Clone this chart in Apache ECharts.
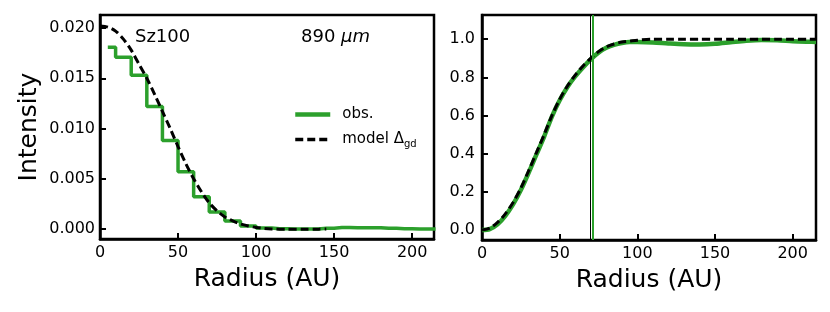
<!DOCTYPE html>
<html>
<head>
<meta charset="utf-8">
<script src="https://cdn.jsdelivr.net/npm/echarts@6/dist/echarts.min.js"></script>
<style>html,body{margin:0;padding:0;background:#fff}#c{width:830px;height:312px}</style>
</head>
<body>
<div id="c"></div>
<script>
// ---- Left panel: intensity profile ----
var obsRadius = [5,15,25,35,45,55,65,75,85,95,105,115,125,135,145,155,165,175,185,195,205,215];
var obsIntensity = [0.0181,0.0171,0.0153,0.0122,0.0088,0.0057,0.0032,0.0017,0.0008,0.0003,0.0001,0.00001,0.0,0.0,0.00008,0.00014,0.00013,0.00011,0.00006,0.00002,0.0,0.0];
var modelRadius = [0,5,10,15,20,25,30,35,40,45,50,55,60,65,70,75,80,85,90,95,100,105,110,120,130,140,145];
var modelIntensity = [0.0202,0.0201,0.0197,0.0189,0.0178,0.0164,0.0150,0.0134,0.0117,0.0100,0.0082,0.0065,0.0050,0.0037,0.0026,0.0018,0.0012,0.0008,0.0005,0.0003,0.00015,0.00005,0.0,-0.00003,-0.00003,-0.00002,0.0];
// ---- Right panel: cumulative (normalised) ----
var cumRadius = [0,5,10,15,20,25,30,35,40,45,50,55,60,65,70,75,80,85,90,95,100,110,120,130,140,150,160,170,180,190,200,210,215];
var cumObs = [0.0,0.005,0.03,0.075,0.135,0.21,0.30,0.395,0.49,0.595,0.68,0.75,0.805,0.852,0.895,0.93,0.955,0.97,0.98,0.985,0.985,0.983,0.978,0.974,0.973,0.976,0.984,0.992,0.996,0.995,0.99,0.987,0.986];
var cumModel = [0.0,0.01,0.04,0.085,0.145,0.22,0.31,0.405,0.50,0.60,0.685,0.755,0.812,0.86,0.90,0.935,0.96,0.975,0.985,0.99,0.995,1.0,1.0,1.0,1.0,1.0,1.0,1.0,1.0,1.0,1.0,1.0,1.0];
var radiusLine1 = 70;
var radiusLine2 = 71;
var xTicks = [0,50,100,150,200];
var yTicksLeft = [0,0.005,0.01,0.015,0.02];
var yTicksRight = [0,0.2,0.4,0.6,0.8,1.0];

function zip(a,b){return a.map(function(v,i){return [v,b[i]];});}
var FF = 'DejaVu Sans';
var GREEN = '#2ca02c';
var DASH = [8,4];
function axLine(){return {show:true, onZero:false, lineStyle:{color:'#000', width:2.5}};}
function axTick(vals){return {show:true, inside:true, length:6, lineStyle:{color:'#000', width:2}, customValues:vals};}

function xAxisOpt(idx, max){
  return {
    type:'value', gridIndex: idx, min:0, max:max,
    name:'Radius (AU)', nameLocation:'middle', nameGap:28,
    nameTextStyle:{fontSize:25, color:'#000', fontFamily:FF},
    axisLine:axLine(),
    axisTick:axTick(xTicks),
    axisLabel:{color:'#000', fontSize:16, fontFamily:FF, margin:6, customValues:xTicks},
    splitLine:{show:false}
  };
}

var chart = echarts.init(document.getElementById('c'));
chart.setOption({
  animation:false,
  backgroundColor:'#fff',
  grid:[
    {left:100, top:15, width:334, height:224, show:true, borderColor:'#000', borderWidth:2.5},
    {left:482, top:15, width:334, height:225, show:true, borderColor:'#000', borderWidth:2.5}
  ],
  xAxis:[xAxisOpt(0,214), xAxisOpt(1,215)],
  yAxis:[
    {type:'value', gridIndex:0, min:-0.001, max:0.0213,
     name:'Intensity', nameLocation:'middle', nameGap:58,
     nameTextStyle:{fontSize:25, color:'#000', fontFamily:FF},
     axisLine:axLine(),
     axisTick:axTick(yTicksLeft),
     axisLabel:{color:'#000', fontSize:16, fontFamily:FF, margin:5, customValues:yTicksLeft, formatter:function(v){return v.toFixed(3);}},
     splitLine:{show:false}},
    {type:'value', gridIndex:1, min:-0.052, max:1.127,
     axisLine:axLine(),
     axisTick:axTick(yTicksRight),
     axisLabel:{color:'#000', fontSize:16, fontFamily:FF, margin:7, customValues:yTicksRight, formatter:function(v){return v.toFixed(1);}},
     splitLine:{show:false}}
  ],
  title:[
    {text:'Sz100', left:135, top:26, padding:0, textStyle:{fontSize:18, fontWeight:'normal', color:'#000', fontFamily:FF, lineHeight:22}},
    {text:'{n|890 }{i|μm}', left:301, top:26, padding:0, textStyle:{fontSize:18, fontWeight:'normal', color:'#000', fontFamily:FF, lineHeight:22,
      rich:{n:{fontSize:18, color:'#000', fontFamily:FF, lineHeight:22}, i:{fontSize:18, color:'#000', fontFamily:FF, fontStyle:'italic', lineHeight:22}}}}
  ],
  legend:{
    data:[
      {name:'obs.', lineStyle:{color:GREEN, width:4.5}},
      {name:'model', lineStyle:{color:'#000', width:3.5, type:DASH}}
    ],
    orient:'vertical', left:293, top:107, padding:0,
    itemWidth:35, itemHeight:14, itemGap:10,
    itemStyle:{opacity:0},
    textStyle:{fontSize:15, color:'#000', fontFamily:FF, padding:[0,0,0,7],
      rich:{a:{fontSize:15, color:'#000', fontFamily:FF, lineHeight:20},
            b:{fontSize:10, color:'#000', fontFamily:FF, lineHeight:10, verticalAlign:'bottom'}}},
    formatter:function(name){return name==='model' ? '{a|model Δ}{b|gd}' : '{a|obs.}';}
  },
  series:[
    {name:'obs.', type:'line', xAxisIndex:0, yAxisIndex:0, step:'middle', symbol:'none', showSymbol:false,
     data:zip(obsRadius, obsIntensity), lineStyle:{color:GREEN, width:3.5}, itemStyle:{color:GREEN}, z:2},
    {name:'model', type:'line', xAxisIndex:0, yAxisIndex:0, symbol:'none', showSymbol:false, smooth:0.3,
     data:zip(modelRadius, modelIntensity), lineStyle:{color:'#000', width:3, type:DASH}, itemStyle:{color:'#000'}, z:3},
    {name:'obs. cumulative', type:'line', xAxisIndex:1, yAxisIndex:1, symbol:'none', showSymbol:false, smooth:0.3,
     data:zip(cumRadius, cumObs), lineStyle:{color:GREEN, width:4.5}, itemStyle:{color:GREEN}, z:2,
     markLine:{silent:true, symbol:'none', label:{show:false}, animation:false,
       data:[{xAxis:radiusLine1, lineStyle:{color:'#000', width:1, type:'solid'}},
             {xAxis:radiusLine2, lineStyle:{color:GREEN, width:2, type:'solid'}}]}},
    {name:'model cumulative', type:'line', xAxisIndex:1, yAxisIndex:1, symbol:'none', showSymbol:false, smooth:0.3,
     data:zip(cumRadius, cumModel), lineStyle:{color:'#000', width:3, type:DASH}, itemStyle:{color:'#000'}, z:3}
  ]
});
</script>
</body>
</html>
